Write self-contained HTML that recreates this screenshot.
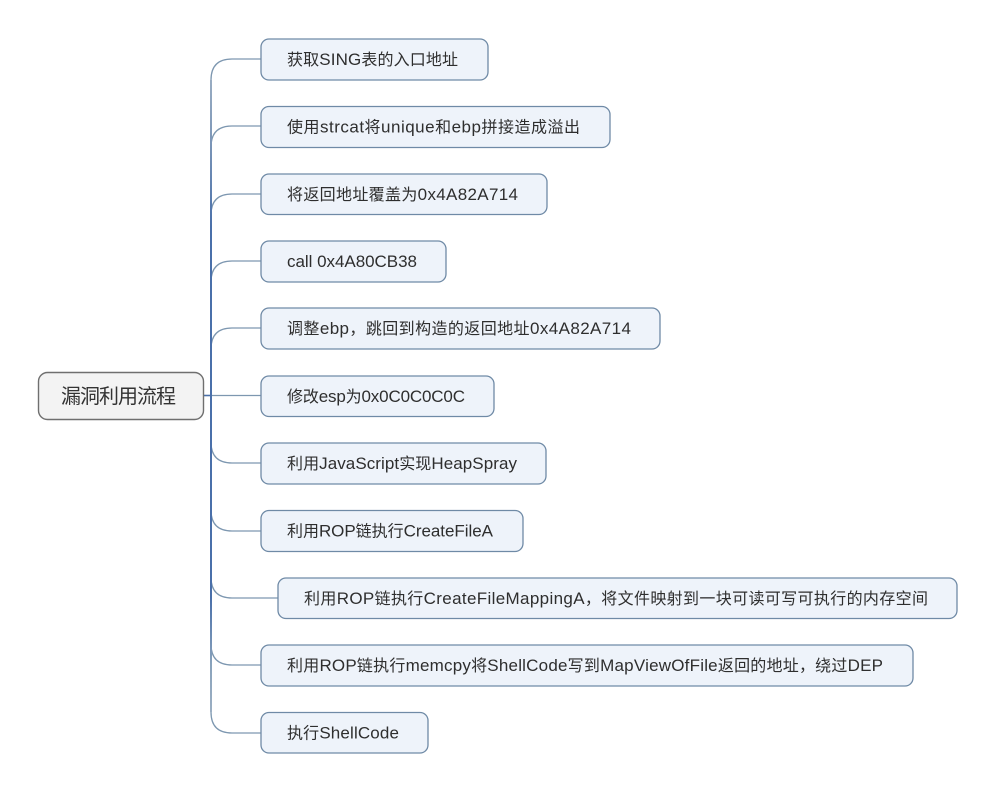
<!DOCTYPE html>
<html><head><meta charset="utf-8"><style>
html,body{margin:0;padding:0;background:#fff}
svg{display:block}
text{font-family:"Liberation Sans","Noto Sans CJK SC",sans-serif;fill:#2e2e2e;font-size:16px}
tspan{font-size:17px}
.b{fill:#eef3fa;stroke:#6f8aa6;stroke-width:1.3}
.c{fill:none;stroke:#7d97b0;stroke-width:1.3}
</style></head><body>
<svg width="996" height="791" viewBox="0 0 996 791" xmlns="http://www.w3.org/2000/svg">
<defs><linearGradient id="t" x1="0" y1="59" x2="0" y2="732" gradientUnits="userSpaceOnUse">
<stop offset="0" stop-color="#a3b4c6"/><stop offset=".12" stop-color="#7d97b8"/><stop offset=".25" stop-color="#4a70aa"/><stop offset=".8" stop-color="#4a70aa"/><stop offset=".9" stop-color="#8aa3bc"/><stop offset="1" stop-color="#a3b4c6"/></linearGradient></defs>
<path class="c" d="M261 59H232Q211 59 211 80"/>
<path class="c" d="M261 126H232Q211 126 211 147"/>
<path class="c" d="M261 194H232Q211 194 211 215"/>
<path class="c" d="M261 261H232Q211 261 211 282"/>
<path class="c" d="M261 328H232Q211 328 211 349"/>
<path class="c" d="M204 395.500H261"/>
<path class="c" d="M261 463H232Q211 463 211 442"/>
<path class="c" d="M261 531H232Q211 531 211 510"/>
<path class="c" d="M278 598H232Q211 598 211 577"/>
<path class="c" d="M261 665H232Q211 665 211 644"/>
<path class="c" d="M261 733H232Q211 733 211 712"/>
<path d="M211 80V712" fill="none" stroke="url(#t)" stroke-width="2"/>
<path d="M204 395.500H212" stroke="#4a70aa" stroke-width="1.5" fill="none"/>
<rect x="38.500" y="372.500" width="165" height="47" rx="9" fill="#f3f3f3" stroke="#6f6f6f" stroke-width="1.400"/>
<text x="61" y="403" style="font-size:20px;fill:#333" textLength="115" lengthAdjust="spacing">漏洞利用流程</text>
<rect class="b" x="261" y="39" width="227" height="41" rx="8"/>
<text x="287" y="65" textLength="171" lengthAdjust="spacing">获取<tspan>SING</tspan>表的入口地址</text>
<rect class="b" x="261" y="106.500" width="349" height="41" rx="8"/>
<text x="287" y="132.500" textLength="293" lengthAdjust="spacing">使用<tspan>strcat</tspan>将<tspan>unique</tspan>和<tspan>ebp</tspan>拼接造成溢出</text>
<rect class="b" x="261" y="174" width="286" height="40.500" rx="8"/>
<text x="287" y="200" textLength="231" lengthAdjust="spacing">将返回地址覆盖为<tspan>0x4A82A714</tspan></text>
<rect class="b" x="261" y="241" width="185" height="41" rx="8"/>
<text x="287" y="267" textLength="130" lengthAdjust="spacing"><tspan>call 0x4A80CB38</tspan></text>
<rect class="b" x="261" y="308" width="399" height="41" rx="8"/>
<text x="287" y="334" textLength="344" lengthAdjust="spacing">调整<tspan>ebp</tspan>，跳回到构造的返回地址<tspan>0x4A82A714</tspan></text>
<rect class="b" x="261" y="376" width="233" height="40.500" rx="8"/>
<text x="287" y="402" textLength="178" lengthAdjust="spacing">修改<tspan>esp</tspan>为<tspan>0x0C0C0C0C</tspan></text>
<rect class="b" x="261" y="443" width="285" height="41" rx="8"/>
<text x="287" y="469" textLength="230" lengthAdjust="spacing">利用<tspan>JavaScript</tspan>实现<tspan>HeapSpray</tspan></text>
<rect class="b" x="261" y="510.500" width="262" height="41" rx="8"/>
<text x="287" y="536.500" textLength="206" lengthAdjust="spacing">利用<tspan>ROP</tspan>链执行<tspan>CreateFileA</tspan></text>
<rect class="b" x="278" y="578" width="679" height="40.500" rx="8"/>
<text x="304" y="604" textLength="624" lengthAdjust="spacing">利用<tspan>ROP</tspan>链执行<tspan>CreateFileMappingA</tspan>，将文件映射到一块可读可写可执行的内存空间</text>
<rect class="b" x="261" y="645" width="652" height="41" rx="8"/>
<text x="287" y="671" textLength="596" lengthAdjust="spacing">利用<tspan>ROP</tspan>链执行<tspan>memcpy</tspan>将<tspan>ShellCode</tspan>写到<tspan>MapViewOfFile</tspan>返回的地址，绕过<tspan>DEP</tspan></text>
<rect class="b" x="261" y="712.500" width="167" height="40.500" rx="8"/>
<text x="287" y="738.500" textLength="112" lengthAdjust="spacing">执行<tspan>ShellCode</tspan></text>
</svg>
</body></html>
